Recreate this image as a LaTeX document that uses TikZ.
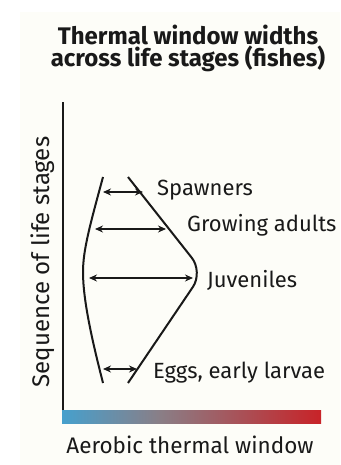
\documentclass[tikz,border=0pt]{standalone}
\usepackage{fontspec}
\setmainfont{Fira Sans}
\usetikzlibrary{
    arrows.meta,
    calc
}
\definecolor{paper}{RGB}{253,253,248}
\definecolor{ink}{RGB}{25,25,25}
\definecolor{coldend}{RGB}{70,160,205}
\definecolor{midgray}{RGB}{138,126,134}
\definecolor{warmend}{RGB}{200,35,40}
\pgfdeclarehorizontalshading{thermal}{100bp}{
  color(0bp)=(coldend); color(25bp)=(coldend); color(44bp)=(midgray);
  color(75bp)=(warmend); color(100bp)=(warmend)}
\tikzset{
  window/.style={
    ink,
    line width=2pt
  },
  width arrow/.style={
    ink,
    line width=1.3pt,
    {Stealth[length=8pt,width=7pt]}-{Stealth[length=8pt,width=7pt]}
  },
  stage/.style={
    ink,
    anchor=west,
    inner sep=0pt,
    font=\fontsize{22}{24}\selectfont
  }
}

\begin{document}
\begin{tikzpicture}[x=1pt,y=-1pt]
    % 背景
    \useasboundingbox (0,0) rectangle (340,465);
    \fill[paper] (20,12) rectangle (340,465);

    % 題
    \node[ink,anchor=base,inner sep=0pt,font=\fontsize{24}{26}\selectfont\bfseries]
        (title) at (188,45) {Thermal window widths};
    \node[ink,anchor=base,inner sep=0pt,font=\fontsize{24}{26}\selectfont\bfseries]
        (subtitle) at (188,67) {across life stages (fishes)};

    % 軸
    \coordinate (origin) at (63,410);
    \coordinate (top) at (63,102);
    \draw[ink,line width=1.2pt] (origin) -- (top);
    \shade[shading=thermal] (62,410) rectangle (321,423);
    \node[ink,rotate=90,inner sep=0pt,font=\fontsize{24}{26}\selectfont]
        (ylabel) at (43,262) {Sequence of life stages};
    \node[ink,anchor=base,inner sep=0pt,font=\fontsize{22.5}{24}\selectfont]
        (xlabel) at (190,453) {Aerobic thermal window};

    % 窓の両端
    \draw[window] (103,177) .. controls (90,225) and (83,250) .. (83,272)
        .. controls (83,300) and (92,340) .. (103,383);
    \draw[window,rounded corners=18pt] (128,177) -- (203,272) -- (128,383);

    % 幅
    \coordinate (sp-l) at (103,192);
    \coordinate (sp-r) at (143,192);
    \coordinate (ga-l) at (95,229);
    \coordinate (ga-r) at (166,229);
    \coordinate (ju-l) at (89,278);
    \coordinate (ju-r) at (193,278);
    \coordinate (eg-l) at (103,369);
    \coordinate (eg-r) at (137,369);
    \draw[width arrow] (sp-l) -- (sp-r);
    \draw[width arrow] (ga-l) -- (ga-r);
    \draw[width arrow] (ju-l) -- (ju-r);
    \draw[width arrow] (eg-l) -- (eg-r);

    % 段階
    \node[stage] (spawners) at (157,190) {Spawners};
    \node[stage] (adults) at (187,225) {Growing adults};
    \node[stage] (juveniles) at (207,280) {Juveniles};
    \node[stage] (eggs) at (153,373) {Eggs, early larvae};
\end{tikzpicture}
\end{document}
